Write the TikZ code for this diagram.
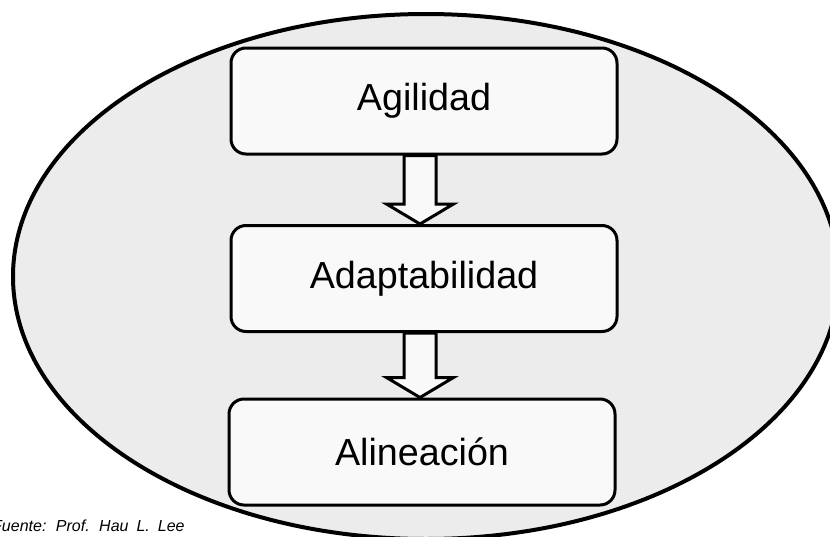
\documentclass[tikz,border=0pt]{standalone}
\usepackage{fontspec}
\setmainfont{Liberation Sans}
\newfontfamily\srcfont[WordSpace=1.8]{Liberation Sans}
\usetikzlibrary{calc}
\definecolor{ellfill}{HTML}{ECECEC}
\definecolor{boxfill}{HTML}{F9F9F9}
\tikzset{
  stagebox/.style={draw=black, line width=3pt, fill=boxfill, rounded corners=15pt,
    minimum width=386pt, minimum height=106pt, inner sep=0pt,
    font=\fontsize{37.7}{40}\selectfont},
  blockarr/.style={draw=black, line width=3pt, fill=boxfill, line join=miter},
  oval/.style={draw=black, line width=4pt, fill=ellfill}
}
\begin{document}
\begin{tikzpicture}[x=1pt,y=-1pt]
\useasboundingbox (0,0) rectangle (830,536);
\fill[white] (0,0) rectangle (830,536);
\draw[oval] (426,276.5) ellipse [x radius=413pt, y radius=262.5pt];
\node[stagebox] (a) at (424,101) {Agilidad};
\node[stagebox] (b) at (424,278.5) {Adaptabilidad};
\node[stagebox] (c) at (422,452) {Alineación};
\draw[blockarr] ($(a.south)+(-20,0)$) -- ($(b.north)+(-20,-20)$) -- ($(b.north)+(-37.5,-20)$)
  -- ($(b.north)+(-4,0)$) -- ($(b.north)+(29.5,-20)$) -- ($(b.north)+(12,-20)$)
  -- ($(a.south)+(12,0)$) -- cycle;
\draw[blockarr] ($(b.south)+(-20,0)$) -- ($(c.north)+(-18,-20)$) -- ($(c.north)+(-35.5,-20)$)
  -- ($(c.north)+(-2,0)$) -- ($(c.north)+(31.5,-20)$) -- ($(c.north)+(14,-20)$)
  -- ($(b.south)+(12,0)$) -- cycle;
\node[anchor=base west, inner sep=0pt, font=\srcfont\fontsize{16}{19}\itshape\selectfont] (src) at (-8,531) {Fuente: Prof. Hau L. Lee};
\end{tikzpicture}
\end{document}
